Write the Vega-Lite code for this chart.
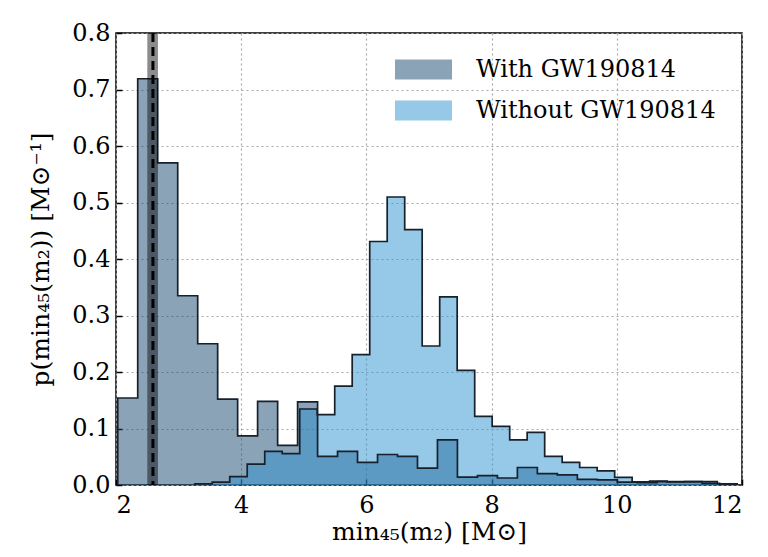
{
  "$schema": "https://vega.github.io/schema/vega-lite/v6.json",
  "width": 626,
  "height": 452,
  "autosize": {"type": "none"},
  "padding": {"left": 116, "top": 33, "right": 26, "bottom": 72},
  "background": "white",
  "config": {
    "font": "DejaVu Serif",
    "view": {"stroke": "black", "strokeWidth": 1.5},
    "axis": {
      "labelFont": "DejaVu Serif", "labelFontSize": 24, "labelColor": "black",
      "titleFont": "DejaVu Serif", "titleFontSize": 25, "titleFontWeight": "normal", "titleColor": "black",
      "grid": true, "gridDash": [2, 3], "gridColor": "#a8a8a8", "gridWidth": 1.2,
      "domain": false, "tickColor": "black", "tickSize": -6, "tickWidth": 1.5
    },
    "legend": {
      "orient": "none", "legendX": 279, "legendY": 8, "padding": 0,
      "labelFont": "DejaVu Serif", "labelFontSize": 24, "labelColor": "black", "labelLimit": 0,
      "symbolType": "M-1,-0.351L1,-0.351L1,0.351L-1,0.351Z", "symbolSize": 3249,
      "symbolOpacity": 0.5, "symbolStrokeWidth": 0, "labelOffset": 24, "rowPadding": -22
    }
  },
  "datasets": {
    "with": [
      {"i": 0, "x": 2.028, "y": 0},
      {"i": 1, "x": 2.028, "y": 0.154},
      {"i": 2, "x": 2.347, "y": 0.719},
      {"i": 3, "x": 2.666, "y": 0.570},
      {"i": 4, "x": 2.986, "y": 0.335},
      {"i": 5, "x": 3.305, "y": 0.250},
      {"i": 6, "x": 3.624, "y": 0.152},
      {"i": 7, "x": 3.943, "y": 0.087},
      {"i": 8, "x": 4.262, "y": 0.148},
      {"i": 9, "x": 4.582, "y": 0.070},
      {"i": 10, "x": 4.901, "y": 0.147},
      {"i": 11, "x": 5.220, "y": 0.0506},
      {"i": 12, "x": 5.539, "y": 0.0595},
      {"i": 13, "x": 5.858, "y": 0.040},
      {"i": 14, "x": 6.178, "y": 0.054},
      {"i": 15, "x": 6.497, "y": 0.0506},
      {"i": 16, "x": 6.816, "y": 0.030},
      {"i": 17, "x": 7.135, "y": 0.080},
      {"i": 18, "x": 7.454, "y": 0.014},
      {"i": 19, "x": 7.774, "y": 0.0165},
      {"i": 20, "x": 8.093, "y": 0.0124},
      {"i": 21, "x": 8.412, "y": 0.031},
      {"i": 22, "x": 8.731, "y": 0.020},
      {"i": 23, "x": 9.050, "y": 0.018},
      {"i": 24, "x": 9.370, "y": 0.010},
      {"i": 25, "x": 9.689, "y": 0.009},
      {"i": 26, "x": 10.008, "y": 0.005},
      {"i": 27, "x": 10.327, "y": 0.004},
      {"i": 28, "x": 10.646, "y": 0.006},
      {"i": 29, "x": 10.966, "y": 0.006},
      {"i": 30, "x": 11.285, "y": 0.006},
      {"i": 31, "x": 11.604, "y": 0.002},
      {"i": 32, "x": 11.923, "y": 0}
    ],
    "without": [
      {"i": 0, "x": 3.258, "y": 0},
      {"i": 1, "x": 3.258, "y": 0.002},
      {"i": 2, "x": 3.537, "y": 0.005},
      {"i": 3, "x": 3.817, "y": 0.015},
      {"i": 4, "x": 4.096, "y": 0.037},
      {"i": 5, "x": 4.376, "y": 0.0595},
      {"i": 6, "x": 4.655, "y": 0.0554},
      {"i": 7, "x": 4.935, "y": 0.1345},
      {"i": 8, "x": 5.214, "y": 0.1245},
      {"i": 9, "x": 5.494, "y": 0.175},
      {"i": 10, "x": 5.773, "y": 0.2306},
      {"i": 11, "x": 6.053, "y": 0.431},
      {"i": 12, "x": 6.332, "y": 0.5097},
      {"i": 13, "x": 6.612, "y": 0.452},
      {"i": 14, "x": 6.891, "y": 0.246},
      {"i": 15, "x": 7.171, "y": 0.333},
      {"i": 16, "x": 7.450, "y": 0.203},
      {"i": 17, "x": 7.730, "y": 0.1215},
      {"i": 18, "x": 8.009, "y": 0.1037},
      {"i": 19, "x": 8.289, "y": 0.080},
      {"i": 20, "x": 8.568, "y": 0.093},
      {"i": 21, "x": 8.848, "y": 0.0506},
      {"i": 22, "x": 9.127, "y": 0.040},
      {"i": 23, "x": 9.407, "y": 0.031},
      {"i": 24, "x": 9.686, "y": 0.025},
      {"i": 25, "x": 9.966, "y": 0.0135},
      {"i": 26, "x": 10.245, "y": 0.0055},
      {"i": 27, "x": 10.525, "y": 0.007},
      {"i": 28, "x": 10.804, "y": 0.0055},
      {"i": 29, "x": 11.084, "y": 0.006},
      {"i": 30, "x": 11.363, "y": 0.003},
      {"i": 31, "x": 11.643, "y": 0.002},
      {"i": 32, "x": 11.922, "y": 0}
    ],
    "band": [{"lo": 2.50, "hi": 2.67, "m": 2.59}]
  },
  "encoding": {
    "x": {
      "field": "x", "type": "quantitative",
      "scale": {"domain": [2, 12], "nice": false, "zero": false},
      "axis": {"values": [2, 4, 6, 8, 10, 12], "labelPadding": 14, "title": "min₄₅(m₂) [M⊙]", "titlePadding": 2}
    },
    "y": {
      "field": "y", "type": "quantitative", "stack": null,
      "scale": {"domain": [0, 0.8], "nice": false},
      "axis": {"values": [0, 0.1, 0.2, 0.3, 0.4, 0.5, 0.6, 0.7, 0.8], "format": ".1f", "labelPadding": 12, "title": "p(min₄₅(m₂)) [M⊙⁻¹]", "titlePadding": 18}
    }
  },
  "layer": [
    {
      "data": {"name": "with"},
      "transform": [{"filter": "datum.i > 0"}],
      "mark": {"type": "area", "interpolate": "step-after", "fillOpacity": 0.5},
      "encoding": {
        "color": {"datum": "With GW190814", "type": "nominal",
          "scale": {"domain": ["With GW190814", "Without GW190814"], "range": ["#17486f", "#2d91d1"]},
          "legend": {"title": null}}
      }
    },
    {
      "data": {"name": "without"},
      "transform": [{"filter": "datum.i > 0"}],
      "mark": {"type": "area", "interpolate": "step-after", "fillOpacity": 0.5},
      "encoding": {
        "color": {"datum": "Without GW190814", "type": "nominal"}
      }
    },
    {
      "data": {"name": "with"},
      "mark": {"type": "line", "interpolate": "step-after", "color": "#17212c", "strokeWidth": 1.7},
      "encoding": {"order": {"field": "i", "type": "quantitative"}}
    },
    {
      "data": {"name": "without"},
      "mark": {"type": "line", "interpolate": "step-after", "color": "#17212c", "strokeWidth": 1.7},
      "encoding": {"order": {"field": "i", "type": "quantitative"}}
    },
    {
      "data": {"name": "band"},
      "mark": {"type": "rect", "color": "black", "opacity": 0.45},
      "encoding": {
        "x": {"field": "lo", "type": "quantitative"},
        "x2": {"field": "hi"},
        "y": null
      }
    },
    {
      "data": {"name": "band"},
      "mark": {"type": "rule", "color": "black", "strokeWidth": 3, "strokeDash": [9, 5]},
      "encoding": {
        "x": {"field": "m", "type": "quantitative"},
        "y": null
      }
    }
  ]
}
